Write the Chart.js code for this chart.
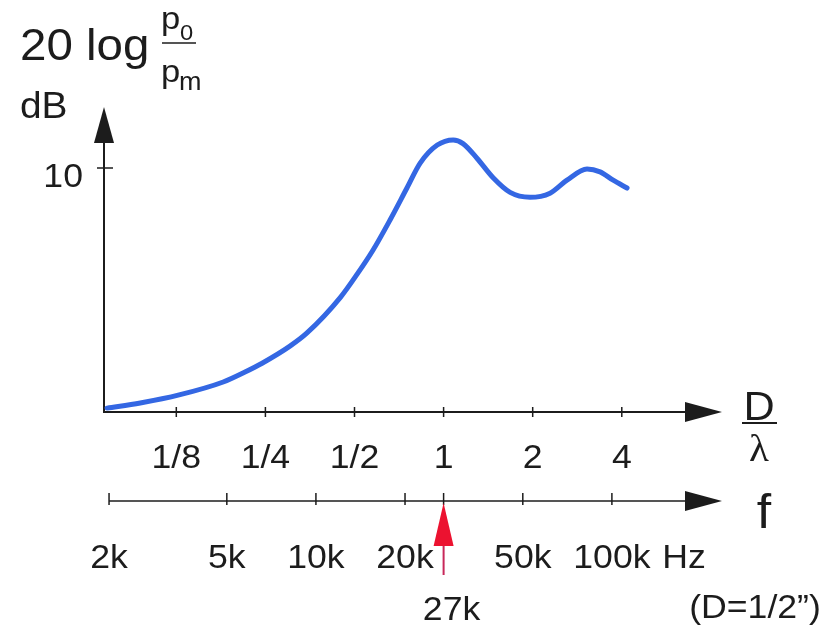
<!DOCTYPE html>
<html>
<head>
<meta charset="utf-8">
<title>20 log p0/pm vs D/λ</title>
<script src="https://cdn.jsdelivr.net/npm/chart.js@4.4.1/dist/chart.umd.min.js"></script>
<style>
  html, body { margin: 0; padding: 0; background: #fff; }
  #wrap { width: 829px; height: 626px; }
</style>
</head>
<body>
<div id="wrap"><canvas id="chart" width="829" height="626"></canvas></div>
<script>
// Curve (frequency in Hz, level in dB)
const freqHz = [1970, 2550, 3450, 4860, 5760, 6580, 8170, 9330, 12100, 13800, 15600, 17800,
    20300, 22500, 25700, 29100, 31400, 35000, 39700, 45300, 52900, 61800, 70500, 82400,
    91200, 101000, 112500];
const levelDb = [0.16, 0.37, 0.7, 1.23, 1.64, 2.0, 2.7, 3.24, 4.7, 5.66, 6.64, 7.87,
    9.18, 10.2, 10.94, 11.15, 11.0, 10.4, 9.6, 9.0, 8.8, 8.97, 9.5, 9.96,
    9.84, 9.5, 9.18];

// D/lambda axis: D = 1/2", so D/lambda = 1 at 27 kHz
const unityFreqHz = 27000;
const dOverLambdaTicks = [1 / 8, 1 / 4, 1 / 2, 1, 2, 4];
const dOverLambdaLabels = ['1/8', '1/4', '1/2', '1', '2', '4'];

// frequency axis
const freqTicks = [2000, 5000, 10000, 20000, 50000, 100000];
const freqLabels = ['2k', '5k', '10k', '20k', '50k', '100k'];
const markerLabel = '27k';

// level axis
const yTicks = [10];
const yLabels = ['10'];

const SANS = '"Liberation Sans", Arial, sans-serif';
const SERIF = '"Liberation Serif", "Times New Roman", serif';
const INK = '#1c1c1c';
const CURVE = '#3467e3';
const TEXT_STRETCH = 1.08;

function label(ctx, text, x, y, size, align, family) {
    ctx.save();
    ctx.font = size + 'px ' + (family || SANS);
    ctx.textAlign = align || 'center';
    ctx.textBaseline = 'alphabetic';
    ctx.fillStyle = INK;
    ctx.translate(x, y);
    ctx.scale(TEXT_STRETCH, 1);
    ctx.fillText(text, 0, 0);
    ctx.restore();
}

function line(ctx, x1, y1, x2, y2, width, color) {
    ctx.save();
    ctx.strokeStyle = color || INK;
    ctx.lineWidth = width;
    ctx.beginPath();
    ctx.moveTo(x1, y1);
    ctx.lineTo(x2, y2);
    ctx.stroke();
    ctx.restore();
}

// filled triangle, tip at (x, y)
function arrowHead(ctx, x, y, dir, len, half, color) {
    ctx.save();
    ctx.fillStyle = color || INK;
    ctx.beginPath();
    ctx.moveTo(x, y);
    if (dir === 'up') {
        ctx.lineTo(x - half, y + len);
        ctx.lineTo(x + half, y + len);
    } else {
        ctx.lineTo(x - len, y - half);
        ctx.lineTo(x - len, y + half);
    }
    ctx.closePath();
    ctx.fill();
    ctx.restore();
}

// Axes with arrows, second (frequency) axis and annotations
const axesPlugin = {
    id: 'axesPlugin',
    beforeDatasetsDraw(chart) {
        const ctx = chart.ctx;
        const a = chart.chartArea;
        const xs = chart.scales.x;
        const ys = chart.scales.y;

        // level axis
        line(ctx, a.left, a.bottom + 1, a.left, a.top + 34, 2);
        arrowHead(ctx, a.left, a.top, 'up', 36, 10);
        yTicks.forEach((v, i) => {
            const py = ys.getPixelForValue(v);
            line(ctx, a.left - 7, py, a.left + 9, py, 1.5);
            label(ctx, yLabels[i], a.left - 21, py + 19, 33, 'right');
        });

        // D/lambda axis
        line(ctx, a.left - 1, a.bottom, a.right - 35, a.bottom, 2);
        arrowHead(ctx, a.right, a.bottom, 'right', 37, 10);
        dOverLambdaTicks.forEach((r, i) => {
            const px = xs.getPixelForValue(unityFreqHz * r);
            line(ctx, px, a.bottom - 5, px, a.bottom + 5, 1.5);
            label(ctx, dOverLambdaLabels[i], px, a.bottom + 56, 33);
        });

        // frequency axis
        const fy = a.bottom + 89;
        line(ctx, xs.getPixelForValue(freqTicks[0]), fy, a.right - 35, fy, 1.5);
        arrowHead(ctx, a.right, fy, 'right', 37, 10);
        freqTicks.concat([unityFreqHz]).forEach(f => {
            const px = xs.getPixelForValue(f);
            line(ctx, px, fy - 8, px, fy + 4, 1.5);
        });
        freqTicks.forEach((f, i) => {
            label(ctx, freqLabels[i], xs.getPixelForValue(f), fy + 67, 33);
        });
        label(ctx, 'Hz', 684, fy + 67, 33);

        // marker at D/lambda = 1
        const mx = xs.getPixelForValue(unityFreqHz);
        line(ctx, mx, fy + 40, mx, fy + 74, 2, '#c8285a');
        arrowHead(ctx, mx, fy + 2, 'up', 43, 10, '#ec1230');
        label(ctx, markerLabel, mx + 8, fy + 119, 33);
        label(ctx, '(D=1/2\u201D)', 755, fy + 117, 33);

        // axis titles
        label(ctx, 'f', 764, fy + 27, 48);
        label(ctx, 'D', 759, a.bottom + 8, 40);
        line(ctx, 742, a.bottom + 11, 777, a.bottom + 11, 2);
        label(ctx, '\u03BB', 759, a.bottom + 49, 38, 'center', SERIF);

        label(ctx, '20 log', 20, 60, 44, 'left');
        label(ctx, 'dB', 20, 118, 36, 'left');
        label(ctx, 'p', 161, 29, 32, 'left');
        label(ctx, '0', 180, 40, 22, 'left');
        line(ctx, 162, 43, 196, 43, 1.5);
        label(ctx, 'p', 161, 82, 32, 'left');
        label(ctx, 'm', 179, 90, 25, 'left');
    }
};

const points = freqHz.map((f, i) => ({ x: f, y: levelDb[i] }));

new Chart(document.getElementById('chart'), {
    type: 'line',
    data: {
        datasets: [{
            data: points,
            borderColor: CURVE,
            borderWidth: 5,
            pointRadius: 0,
            fill: false,
            cubicInterpolationMode: 'monotone',
            borderCapStyle: 'round'
        }]
    },
    options: {
        responsive: false,
        animation: false,
        devicePixelRatio: 1,
        layout: { padding: { left: 104, right: 107, top: 107, bottom: 214 } },
        plugins: {
            legend: { display: false },
            tooltip: { enabled: false }
        },
        scales: {
            x: { type: 'logarithmic', min: 1923, max: 235500, display: false },
            y: { type: 'linear', min: 0, max: 12.5, display: false }
        }
    },
    plugins: [axesPlugin]
});
</script>
</body>
</html>
